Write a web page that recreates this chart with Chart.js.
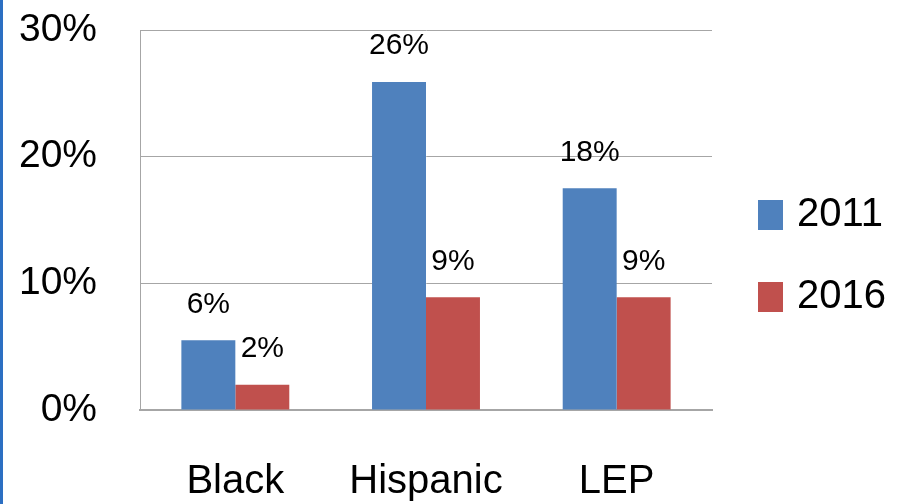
<!DOCTYPE html>
<html>
<head>
<meta charset="utf-8">
<script src="https://cdn.jsdelivr.net/npm/chart.js@4/dist/chart.umd.min.js"></script>
<style>
    html, body { margin: 0; padding: 0; background: #ffffff; }
    #wrap { position: relative; width: 899px; height: 504px; }
    #edge { position: absolute; left: 0; top: 0; width: 3px; height: 504px; background: #2c6fc2; }
</style>
</head>
<body>
<div id="wrap">
    <canvas id="gapChart" width="899" height="504"></canvas>
    <div id="edge"></div>
</div>
<script>
// Chart data (percent)
const categories = ['Black', 'Hispanic', 'LEP'];
const seriesNames = ['2011', '2016'];
const values2011 = [5.5, 25.9, 17.5];
const values2016 = [2.0, 8.9, 8.9];
const yTicks = [0, 10, 20, 30];

const FONT = "'Liberation Sans', Arial, sans-serif";

// Value labels above each bar
const barLabelsPlugin = {
    id: 'barLabels',
    afterDatasetsDraw(chart) {
        const ctx = chart.ctx;
        ctx.save();
        ctx.font = '30px ' + FONT;
        ctx.fillStyle = '#000000';
        ctx.textAlign = 'center';
        ctx.textBaseline = 'middle';
        chart.data.datasets.forEach((ds, i) => {
            chart.getDatasetMeta(i).data.forEach((bar, j) => {
                ctx.fillText(Math.round(ds.data[j]) + '%', bar.x, bar.y - 36);
            });
        });
        ctx.restore();
    }
};

// Legend on the right side
const sideLegendPlugin = {
    id: 'sideLegend',
    afterDraw(chart) {
        const ctx = chart.ctx;
        const left = chart.chartArea.right + 46;
        const startY = 215;
        ctx.save();
        ctx.font = '40px ' + FONT;
        ctx.textAlign = 'left';
        ctx.textBaseline = 'middle';
        chart.data.datasets.forEach((ds, i) => {
            const cy = startY + i * 82;
            ctx.fillStyle = ds.backgroundColor;
            ctx.fillRect(left, cy - 15, 25, 30);
            ctx.fillStyle = '#000000';
            ctx.fillText(ds.label, left + 39, cy);
        });
        ctx.restore();
    }
};

new Chart(document.getElementById('gapChart'), {
    type: 'bar',
    data: {
        labels: categories,
        datasets: [{
            label: seriesNames[0],
            data: values2011,
            backgroundColor: '#4f81bd',
            borderWidth: 0
        }, {
            label: seriesNames[1],
            data: values2016,
            backgroundColor: '#c0504d',
            borderWidth: 0
        }]
    },
    options: {
        responsive: false,
        animation: false,
        layout: { padding: { top: 0, right: 187, bottom: 0, left: 0 } },
        datasets: {
            bar: { categoryPercentage: 0.566, barPercentage: 1.0 }
        },
        scales: {
            x: {
                grid: { display: false, drawTicks: false },
                border: { display: true, color: '#a6a6a6', width: 2 },
                ticks: { font: { size: 40, family: FONT }, color: '#000000', padding: 48, maxRotation: 0 },
                afterFit(scale) { scale.height = 94; }
            },
            y: {
                min: yTicks[0],
                max: yTicks[yTicks.length - 1],
                afterBuildTicks(scale) { scale.ticks = yTicks.map(v => ({ value: v })); },
                grid: { color: '#a6a6a6', lineWidth: 1, drawTicks: false },
                border: { display: true, color: '#a6a6a6', width: 1 },
                ticks: {
                    font: { size: 39, family: FONT },
                    color: '#000000',
                    padding: 43,
                    callback: v => v + '%'
                },
                afterFit(scale) {
                    scale.width = 140;
                    scale.paddingTop = 30;
                }
            }
        },
        plugins: {
            legend: { display: false },
            tooltip: { enabled: false }
        }
    },
    plugins: [barLabelsPlugin, sideLegendPlugin]
});
</script>
</body>
</html>
